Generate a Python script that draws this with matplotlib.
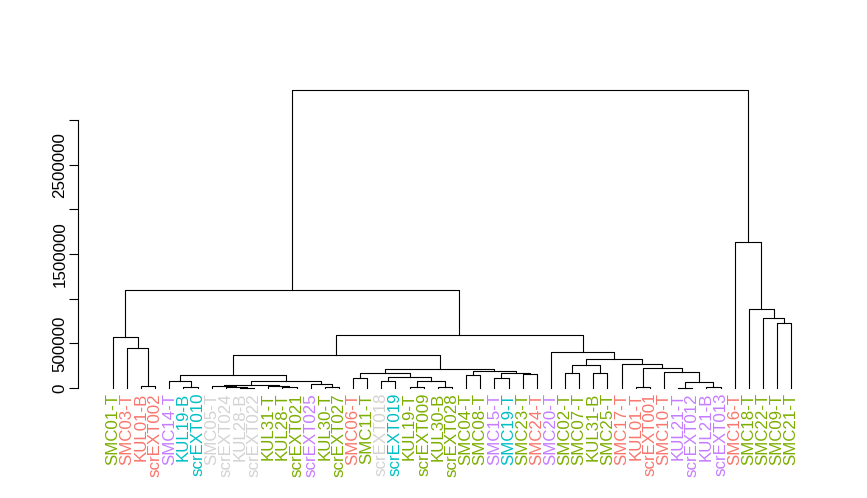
import matplotlib
matplotlib.use('Agg')
import matplotlib.pyplot as plt

plt.rcParams['font.family'] = ['Liberation Sans', 'DejaVu Sans']

# leaves in dendrogram order
labels = ['SMC01-T', 'SMC03-T', 'KUL01-B', 'scrEXT002', 'SMC14-T', 'KUL19-B', 'scrEXT010',
          'SMC05-T', 'scrEXT024', 'KUL28-B', 'scrEXT022', 'KUL31-T', 'KUL28-T', 'scrEXT021',
          'scrEXT025', 'KUL30-T', 'scrEXT027', 'SMC06-T', 'SMC11-T', 'scrEXT018', 'scrEXT019',
          'KUL19-T', 'scrEXT009', 'KUL30-B', 'scrEXT028', 'SMC04-T', 'SMC08-T', 'SMC15-T',
          'SMC19-T', 'SMC23-T', 'SMC24-T', 'SMC20-T', 'SMC02-T', 'SMC07-T', 'KUL31-B',
          'SMC25-T', 'SMC17-T', 'KUL01-T', 'scrEXT001', 'SMC10-T', 'KUL21-T', 'scrEXT012',
          'KUL21-B', 'scrEXT013', 'SMC16-T', 'SMC18-T', 'SMC22-T', 'SMC09-T', 'SMC21-T']
groups = ['g', 'r', 'r', 'r', 'p', 'c', 'c',
          'n', 'n', 'n', 'n', 'g', 'g', 'g',
          'p', 'g', 'g', 'r', 'g', 'n', 'c',
          'g', 'g', 'g', 'g', 'g', 'g', 'p',
          'c', 'g', 'r', 'p', 'g', 'g', 'g',
          'g', 'r', 'r', 'r', 'r', 'p', 'p',
          'p', 'p', 'r', 'g', 'g', 'g', 'g']
group_colors = {'g': '#7CAE00', 'r': '#F8766D', 'c': '#00BFC4', 'p': '#C77CFF', 'n': '#D3D3D3'}

# merges, hclust style: negative = leaf number, positive = earlier merge row
merge_left = [-3, -2, -1, -6, -5, -10, -9, -8, -13, -12, 8, -16, -15, 11, 5,
              -18, -20, -22, -24, 18, 17, 16, -26, -28, -30, 24, 23, 22, 15,
              -33, -35, 30, -38, -41, -43, 34, -40, 33, -37, 32, -32, 29, 3,
              -48, -47, -46, -45, 43]
merge_right = [-4, 1, 2, -7, 4, -11, 6, 7, -14, 9, 10, -17, 12, 13, 14,
               -19, -21, -23, -25, 19, 20, 21, -27, -29, -31, 25, 26, 27, 28,
               -34, -36, 31, -39, -42, -44, 35, 36, 37, 38, 39, 40, 41, 42,
               -49, 44, 45, 46, 47]
merge_height = [22000, 448000, 571000, 8000, 75000, 6000, 12000, 18000, 12000, 22000, 32000,
                10000, 45000, 82000, 149000,
                115000, 82000, 8000, 10000, 82000, 127000, 171000, 146000, 108000, 153000,
                164000, 190000, 209000, 375000,
                171000, 171000, 257000, 15000, 5000, 15000, 64000, 182000, 220000, 269000,
                321000, 406000, 597000, 1097000,
                724000, 784000, 884000, 1634000, 3336000]

yticks = [0, 500000, 1000000, 1500000, 2000000, 2500000, 3000000]
ytick_labels = ['0', '500000', '', '1500000', '', '2500000', '']

fig = plt.figure(figsize=(8.67, 4.98), dpi=100)
ax = fig.add_axes([78 / 867, 98 / 498, 748 / 867, 322 / 498])

node_x = []
node_h = []


def child(k):
    if k < 0:
        return -k, 0.0
    return node_x[k - 1], node_h[k - 1]


for l, r, h in zip(merge_left, merge_right, merge_height):
    xl, hl = child(l)
    xr, hr = child(r)
    ax.plot([xl, xl, xr, xr], [hl, h, h, hr], color='black', lw=0.8)
    node_x.append((xl + xr) / 2)
    node_h.append(h)

n = len(labels)
top = max(merge_height)
ax.set_xlim(0.5 - 0.04 * n, n + 0.5 + 0.04 * n)
ax.set_ylim(-0.04 * top, 1.04 * top)

for i, (lab, g) in enumerate(zip(labels, groups)):
    ax.annotate(lab, (i + 1, 0), xytext=(0, -3.5), textcoords='offset points',
                rotation=90, ha='center', va='top', fontsize=12.2,
                color=group_colors[g], annotation_clip=False)

for s in ['top', 'right', 'bottom']:
    ax.spines[s].set_visible(False)
ax.spines['left'].set_bounds(0, 3000000)
ax.spines['left'].set_linewidth(0.8)
ax.set_xticks([])
ax.set_yticks(yticks)
ax.set_yticklabels(ytick_labels, rotation=90, va='center')
ax.tick_params(axis='y', length=6.5, width=0.8, pad=1, labelsize=12.2)

plt.savefig('out.png', dpi=100)
